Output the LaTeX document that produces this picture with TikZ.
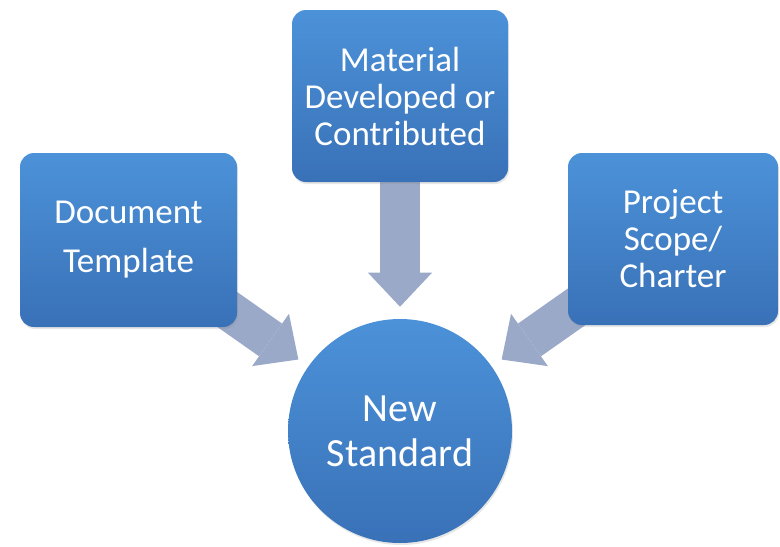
\documentclass[tikz,border=0pt]{standalone}
\usepackage{fontspec}
\setmainfont{Carlito}
\usetikzlibrary{arrows.meta,shadows,backgrounds}
\definecolor{boxtop}{RGB}{76,146,217}
\definecolor{boxbot}{RGB}{57,113,183}
\definecolor{flowgrey}{RGB}{155,169,200}

\begin{document}
\begin{tikzpicture}[x=0.75pt,y=0.75pt,yscale=-1,xscale=1,
  box/.style={rectangle, rounded corners=10.5pt, top color=boxtop, bottom color=boxbot, text=white, align=center, inner sep=0pt, drop shadow={opacity=0.2, shadow xshift=0.75pt, shadow yshift=-1.5pt}, font=\fontsize{26.25}{27.75}\selectfont},
  flow/.style={draw=flowgrey, line width=30pt, shorten >=9pt, -{Triangle[length=25.5pt, width=48pt, line width=0pt]}}]
\useasboundingbox (0,0) rectangle (780,546);

% Text Node
\node [box, minimum width=162.75pt, minimum height=130.5pt] (doc) at (128.5,240) {Document\\[9pt]Template};
% Text Node
\node [box, minimum width=162pt, minimum height=129pt] (mat) at (400,96) {Material\\Developed or\\Contributed};
% Text Node
\node [box, minimum width=157.5pt, minimum height=129pt] (proj) at (673,239) {Project\\Scope/\\Charter};
% Shape: Circle
\node [box, circle, minimum size=168pt, font=\fontsize{30}{34}\selectfont] (std) at (400,431) {New\\Standard};

% Block Arrows
\begin{scope}[on background layer]
\draw [flow] (doc.center) -- (std) ;
\draw [flow] (mat.center) -- (std) ;
\draw [flow] (proj.center) -- (std) ;
\end{scope}

\end{tikzpicture}
\end{document}
